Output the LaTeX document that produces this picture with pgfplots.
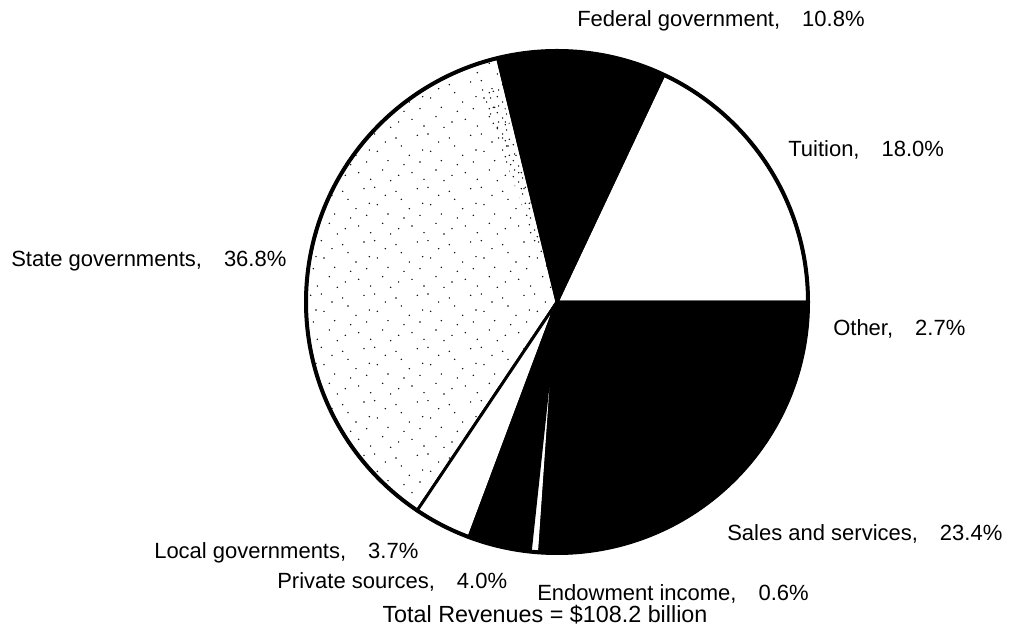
\documentclass[border=0pt]{standalone}
\usepackage{fontspec}
\setmainfont{Liberation Sans}
\usepackage{pgfplots}
\pgfplotsset{compat=1.18}
\usetikzlibrary{patterns}

% sparse stipple for the state slice
\newcommand\sdot[2]{\pgfpathcircle{\pgfqpoint{#1pt}{#2pt}}{0.6pt}}
\pgfdeclarepatternformonly{stipple}{\pgfqpoint{-1pt}{-1pt}}{\pgfqpoint{41pt}{41pt}}{\pgfqpoint{40pt}{40pt}}{%
  \sdot{3}{5}\sdot{13}{23}\sdot{21}{9}\sdot{33}{17}\sdot{7}{31}\sdot{27}{2}
  \sdot{17}{15}\sdot{1}{18}\sdot{29}{29}\sdot{37}{6}\sdot{11}{38}\sdot{23}{35}
  \sdot{35}{37}\sdot{9}{12}\sdot{19}{27}\sdot{38}{24}
  \pgfusepath{fill}}
\pgfdeclarepatternformonly{stippledense}{\pgfqpoint{-1pt}{-1pt}}{\pgfqpoint{13pt}{13pt}}{\pgfqpoint{12pt}{12pt}}{%
  \sdot{2}{3}\sdot{8}{9}\sdot{5}{6}\sdot{10}{2}\sdot{1}{10}\sdot{7}{1}
  \pgfusepath{fill}}

\tikzset{
  slice white/.style={fill=white, draw=black, line width=2.2pt, line join=round},
  slice black/.style={fill=black, draw=black, line width=2.2pt, line join=round},
  slice stipple/.style={pattern=stipple, draw=black, line width=2.2pt, line join=round},
  lbl/.style={anchor=base west, inner sep=0pt, font=\fontsize{16.5}{20}\selectfont},
}

\begin{document}
\begin{tikzpicture}
\begin{axis}[
  hide axis, scale only axis,
  width=758.25pt, height=478.5pt,
  xmin=0, xmax=1011, ymin=0, ymax=638,
  clip=false,
]
\def\cx{557}\def\cy{336}\def\r{251}
% shares in percent, counter-clockwise from 3 o'clock
\xdef\acc{0}
\foreach \p/\st in {18.0/white, 10.8/black, 36.8/stipple, 3.7/white, 4.0/black, 0.6/white, 23.4/black, 2.7/black}{
  \pgfmathsetmacro\nxt{\acc+3.6*\p}
  \edef\doslice{\noexpand\addplot[slice \st, domain=\acc:\nxt, samples=120]
    ({\cx+\r*cos(x)},{\cy+\r*sin(x)}) -- (\cx,\cy) -- cycle;}
  \doslice
  \xdef\acc{\nxt}
}
% denser dots along the federal edge
\addplot[pattern=stippledense, draw=none, domain=104.9:110, samples=30]
  ({\cx+0.9*\r*cos(x)},{\cy+0.9*\r*sin(x)}) -- (\cx,\cy) -- cycle;
\draw[line width=3pt] (\cx,\cy) circle[radius=\r];

\node[lbl] at (577,611) {Federal government,\hspace{1em}10.8\%};
\node[lbl] at (788,481) {Tuition,\hspace{1em}18.0\%};
\node[lbl] at (11,371) {State governments,\hspace{1em}36.8\%};
\node[lbl] at (833,302) {Other,\hspace{1em}2.7\%};
\node[lbl] at (727,97) {Sales and services,\hspace{1em}23.4\%};
\node[lbl] at (154,79) {Local governments,\hspace{1em}3.7\%};
\node[lbl] at (277,49) {Private sources,\hspace{1em}4.0\%};
\node[lbl] at (537,37) {Endowment income,\hspace{1em}0.6\%};
\node[anchor=base, inner sep=0pt, font=\fontsize{17.5}{21}\selectfont] at (545,15) {Total Revenues = \$108.2 billion};
\end{axis}
\pgfresetboundingbox
\path (current axis.south west) rectangle (current axis.north east);
\end{tikzpicture}
\end{document}
